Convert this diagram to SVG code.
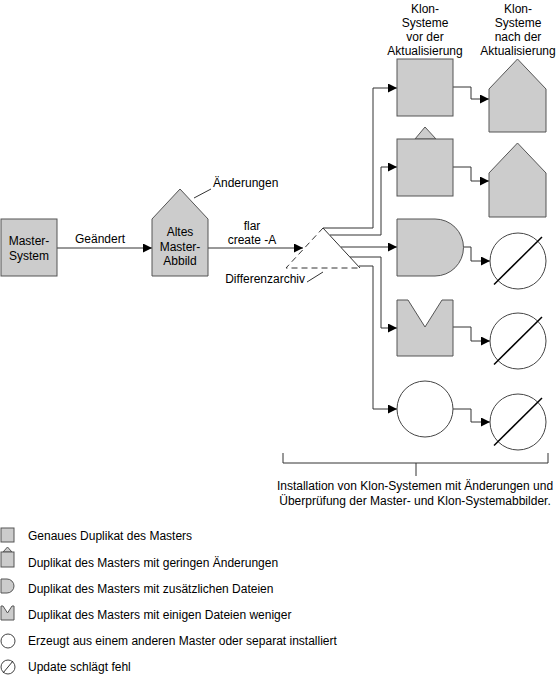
<svg xmlns="http://www.w3.org/2000/svg" width="559" height="675" viewBox="0 0 559 675">
<defs>
<style>
text{font-family:"Liberation Sans",Arial,sans-serif;font-size:12px;fill:#000}
.c{text-anchor:middle}
.g{fill:#cccccc;stroke:#555555;stroke-width:1}
.w{fill:#ffffff;stroke:#444444;stroke-width:1}
.ln{fill:none;stroke:#333333;stroke-width:1}
.cn{fill:none;stroke:#333333;stroke-width:1;marker-end:url(#ah)}
.sl{stroke:#000000;stroke-width:1.5}
.ds{fill:none;stroke:#333333;stroke-width:1;stroke-dasharray:6,4}
</style>
<marker id="ah" viewBox="0 0 10 10" refX="10" refY="5" markerWidth="9" markerHeight="9" markerUnits="userSpaceOnUse" orient="auto">
<path d="M0,0 L10,5 L0,10 Z" fill="#000"/>
</marker>
</defs>
<rect width="559" height="675" fill="#ffffff"/>

<g id="connectors">
<path class="cn" d="M57,248 H152"/>
<path class="cn" d="M208,248 H303"/>
<path class="cn" d="M323,228 H373 V88 H397"/>
<path class="cn" d="M330,235 H381 V167 H397"/>
<path class="cn" d="M341,247 H397"/>
<path class="cn" d="M350,257 H381 V328 H397"/>
<path class="cn" d="M359,266 H373 V409 H397"/>
<path class="cn" d="M453,87 H471 V99 H489"/>
<path class="cn" d="M453,167 H471 V181 H489"/>
<path class="cn" d="M463,247 H471 V261 H490"/>
<path class="cn" d="M453,327 H471 V341 H490"/>
<path class="cn" d="M453,409 H471 V422 H490"/>
<path class="ln" d="M194,198 L211,189"/>
<path class="ln" d="M307,282 L323,272"/>
<path class="ln" d="M283,453 V463 H548 V453 M416,463 V476"/>
</g>

<g id="master-system">
<rect class="g" x="1" y="219" width="56" height="57"/>
<text class="c" x="29" y="245">Master-</text>
<text class="c" x="29" y="260">System</text>
</g>
<text class="c" x="100" y="243">Geändert</text>

<g id="altes-master-abbild">
<polygon class="g" points="152,276 152,219 180,189 208,219 208,276"/>
<text class="c" x="180" y="236">Altes</text>
<text class="c" x="180" y="251">Master-</text>
<text class="c" x="180" y="265">Abbild</text>
</g>
<text x="213" y="187">Änderungen</text>
<text class="c" x="252" y="230">flar</text>
<text class="c" x="252" y="244">create -A</text>

<g id="differenzarchiv">
<path class="ds" d="M323,228 L286,268 H360"/>
<path class="ln" d="M323,228 L360,268"/>
<text x="305" y="283" text-anchor="end">Differenzarchiv</text>
</g>

<g id="header-before">
<text class="c" x="425" y="13">Klon-</text>
<text class="c" x="425" y="27">Systeme</text>
<text class="c" x="425" y="41">vor der</text>
<text class="c" x="425" y="55">Aktualisierung</text>
</g>
<g id="header-after">
<text class="c" x="518" y="13">Klon-</text>
<text class="c" x="518" y="27">Systeme</text>
<text class="c" x="518" y="41">nach der</text>
<text class="c" x="518" y="55">Aktualisierung</text>
</g>

<g id="clone1-before"><rect class="g" x="397" y="59" width="56" height="57"/></g>
<g id="clone2-before">
<polygon class="g" points="415,139 425,127 436,139"/>
<rect class="g" x="397" y="139" width="56" height="57"/>
</g>
<g id="clone3-before"><path class="g" d="M397,219 H435 A28.5,28.5 0 0 1 435,276 H397 Z"/></g>
<g id="clone4-before"><path class="g" d="M397,300 H408 L425,327 L442,300 H453 V356 H397 Z"/></g>
<g id="clone5-before"><circle class="w" cx="425" cy="409" r="28"/></g>

<g id="clone1-after"><polygon class="g" points="489,132 489,89 517.5,59 546,89 546,132"/></g>
<g id="clone2-after"><polygon class="g" points="489,217 489,173 517.5,143 546,173 546,217"/></g>
<g id="clone3-after"><circle class="w" cx="518" cy="261" r="28"/><line class="sl" x1="494" y1="284.5" x2="542" y2="237"/></g>
<g id="clone4-after"><circle class="w" cx="518" cy="341" r="28"/><line class="sl" x1="494" y1="364.5" x2="542" y2="317"/></g>
<g id="clone5-after"><circle class="w" cx="518" cy="422" r="28"/><line class="sl" x1="494" y1="445.5" x2="542" y2="398"/></g>

<g id="bracket-label">
<text class="c" x="415" y="490">Installation von Klon-Systemen mit Änderungen und</text>
<text class="c" x="415" y="505">Überprüfung der Master- und Klon-Systemabbilder.</text>
</g>

<g id="legend">
<rect class="g" x="1" y="528" width="13" height="14"/>
<text x="28" y="540">Genaues Duplikat des Masters</text>
<polygon class="g" points="3,552 7.5,547 12,552"/>
<rect class="g" x="1" y="552" width="13" height="15"/>
<text x="28" y="567">Duplikat des Masters mit geringen Änderungen</text>
<path class="g" d="M1,579 H7 A7,7 0 0 1 7,593 H1 Z"/>
<text x="28" y="593">Duplikat des Masters mit zusätzlichen Dateien</text>
<path class="g" d="M1,606 H3 L7.5,613 L12,606 H14 V620 H1 Z"/>
<text x="28" y="619">Duplikat des Masters mit einigen Dateien weniger</text>
<circle class="w" cx="8" cy="641" r="7"/>
<text x="28" y="645">Erzeugt aus einem anderen Master oder separat installiert</text>
<circle class="w" cx="8" cy="667" r="7"/>
<line class="ln" x1="3" y1="673" x2="13" y2="661"/>
<text x="28" y="671">Update schlägt fehl</text>
</g>
</svg>
